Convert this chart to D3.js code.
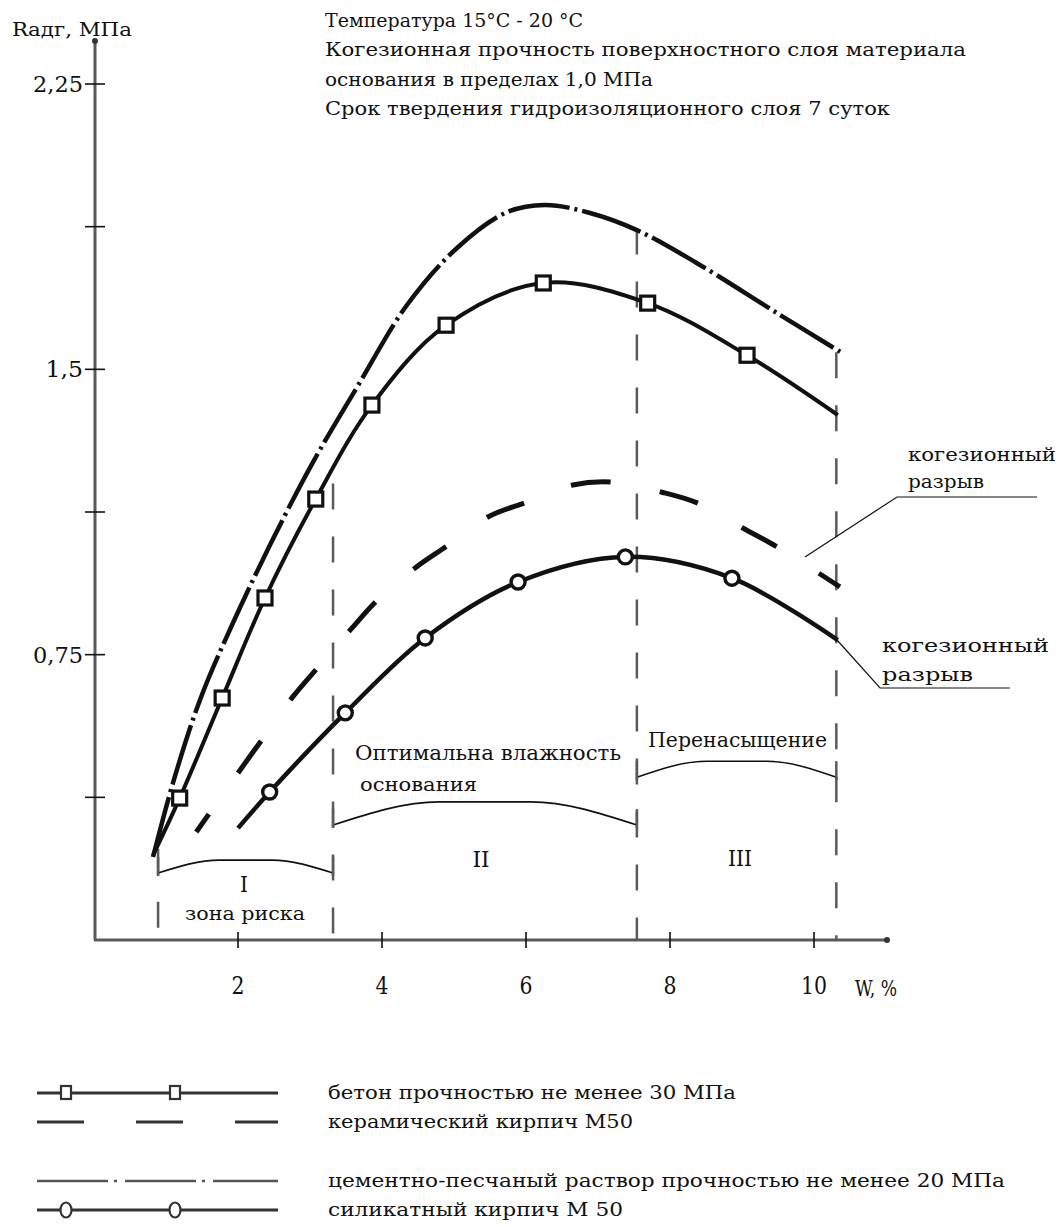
<!DOCTYPE html>
<html><head><meta charset="utf-8">
<script src="https://cdn.jsdelivr.net/npm/d3@7"></script>
<style>
html,body{margin:0;padding:0;background:#fff;}
svg{display:block;}
text{font-family:"DejaVu Serif","Liberation Serif",serif;fill:#111;}
</style></head>
<body>
<script>
// ---- data (W, % ; Radg, MPa) ----
const concreteW = [0.82, 1.19, 1.78, 2.375, 3.08, 3.86, 4.89, 6.24, 7.69, 9.07, 10.33];
const concreteR = [0.223, 0.373, 0.636, 0.899, 1.159, 1.406, 1.616, 1.727, 1.674, 1.537, 1.380];

const ceramicW = [1.42, 2.03, 2.35, 2.76, 3.14, 3.56, 3.94, 4.46, 4.92, 5.47, 6.01, 6.65, 7.19, 7.89, 8.39, 9.01, 9.49, 10.06, 10.36];
const ceramicR = [0.284, 0.447, 0.531, 0.639, 0.723, 0.815, 0.894, 0.978, 1.038, 1.112, 1.151, 1.196, 1.204, 1.177, 1.148, 1.083, 1.033, 0.965, 0.928];

const cementW = [0.82, 1.097, 1.472, 1.917, 2.444, 3.042, 3.653, 4.347, 5.042, 5.736, 6.264, 6.889, 7.54, 8.375, 9.486, 10.39];
const cementR = [0.218, 0.413, 0.631, 0.828, 1.038, 1.256, 1.453, 1.669, 1.819, 1.913, 1.932, 1.911, 1.866, 1.779, 1.648, 1.543];

const silicateW = [2.0, 2.44, 3.49, 4.60, 5.89, 7.38, 8.86, 10.33];
const silicateR = [0.294, 0.389, 0.597, 0.794, 0.941, 1.007, 0.951, 0.788];

const xTicks = [2, 4, 6, 8, 10];
const xTickLabels = ["2", "4", "6", "8", "10"];
const yTicks = [0.375, 0.75, 1.125, 1.5, 1.875, 2.25];
const yTickLabels = {"0.75": "0,75", "1.5": "1,5", "2.25": "2,25"};

const zoneBounds = [0.89, 3.32, 7.54, 10.31];
const zoneLineTop = [0.24, 1.20, 1.87, 1.545];
const zoneNames = ["I", "II", "III"];
const bracketEnd = [0.176, 0.302, 0.428];
const bracketTop = [0.210, 0.363, 0.470];

const titleLines = [
  "Температура 15°С - 20 °С",
  "Когезионная прочность поверхностного слоя  материала",
  "основания в пределах 1,0 МПа",
  "Срок твердения гидроизоляционного слоя 7 суток"
];
const legendLabels = [
  "бетон прочностью не менее 30 МПа",
  "керамический кирпич М50",
  "цементно-песчаный раствор прочностью не менее 20 МПа",
  "силикатный кирпич М 50"
];

// ---- drawing ----
const svg = d3.select("body").append("svg").attr("width", 1062).attr("height", 1227);
const x = d3.scaleLinear().domain([0, 10]).range([94, 814]);
const y = d3.scaleLinear().domain([0, 2.25]).range([940, 84]);
const INK = "#111";
const AX = "#5a5a5a";

function txt(s, px, py, fs, len, anchor) {
  const t = svg.append("text").attr("x", px).attr("y", py).attr("font-size", fs).text(s);
  if (len) t.attr("textLength", len).attr("lengthAdjust", "spacingAndGlyphs");
  if (anchor) t.attr("text-anchor", anchor);
  return t;
}

// title
const titleW = [258, 641, 328, 565];
titleLines.forEach((s, i) => txt(s, 325, 27 + i * 29.3, 19, titleW[i]));

// axes
svg.append("line").attr("x1", x(0) + 1).attr("x2", x(0) + 1).attr("y1", y(0)).attr("y2", 42)
  .attr("stroke", AX).attr("stroke-width", 3);
svg.append("line").attr("x1", x(0)).attr("x2", 887).attr("y1", y(0)).attr("y2", y(0))
  .attr("stroke", AX).attr("stroke-width", 3);
svg.append("circle").attr("cx", 95).attr("cy", 41).attr("r", 3).attr("fill", "#333");
svg.append("circle").attr("cx", 887).attr("cy", 940).attr("r", 3).attr("fill", "#333");

// y ticks
yTicks.forEach(v => {
  svg.append("line").attr("x1", 85).attr("x2", 105).attr("y1", y(v)).attr("y2", y(v))
    .attr("stroke", INK).attr("stroke-width", 1.6);
  const lab = yTickLabels[String(v)];
  if (lab) txt(lab, 83, y(v) + 8, 23, lab.length * 12.5, "end");
});
// x ticks
xTicks.forEach((v, i) => {
  svg.append("line").attr("x1", x(v)).attr("x2", x(v)).attr("y1", 932).attr("y2", 948)
    .attr("stroke", INK).attr("stroke-width", 1.6);
  txt(xTickLabels[i], x(v), 994, 24, xTickLabels[i].length * 13, "middle");
});
txt("W, %", 855, 996, 22, 42);
txt("Rадг, МПа", 12, 36, 18, 120);

// zone dashed verticals
zoneBounds.forEach((w, i) => {
  svg.append("line").attr("x1", x(w)).attr("x2", x(w)).attr("y1", y(zoneLineTop[i])).attr("y2", y(0))
    .attr("stroke", AX).attr("stroke-width", 2.5).attr("stroke-dasharray", "26,27");
});

// brackets
const bLine = d3.line().x(d => x(d[0])).y(d => y(d[1])).curve(d3.curveMonotoneX);
zoneNames.forEach((nm, i) => {
  const a = zoneBounds[i], b = zoneBounds[i + 1], L = b - a;
  const pts = [[a, bracketEnd[i]], [a + 0.35 * L, bracketTop[i]], [a + 0.65 * L, bracketTop[i]], [b, bracketEnd[i]]];
  svg.append("path").attr("d", bLine(pts)).attr("fill", "none").attr("stroke", INK).attr("stroke-width", 1.6);
  [a, b].forEach(w => svg.append("line").attr("x1", x(w)).attr("x2", x(w))
    .attr("y1", y(bracketEnd[i]) - 16).attr("y2", y(bracketEnd[i]) + 3).attr("stroke", AX).attr("stroke-width", 2.5));
});
txt("I", 244, 892, 22, 8, "middle");
txt("зона риска", 185, 920, 19, 120);
txt("II", 481, 867, 22, 17, "middle");
txt("III", 740, 866, 22, 24, "middle");
txt("Оптимальна влажность", 355, 760, 20, 266);
txt("основания", 360, 791, 18, 117);
txt("Перенасыщение", 648, 747, 20, 179);

// curves
const line = d3.line().x(d => x(d[0])).y(d => y(d[1])).curve(d3.curveCatmullRom.alpha(0.5));
const zip = (a, b) => a.map((v, i) => [v, b[i]]);
const concrete = zip(concreteW, concreteR);
const ceramic = zip(ceramicW, ceramicR);
const cement = zip(cementW, cementR);
const silicate = zip(silicateW, silicateR);

svg.append("path").attr("d", line(cement)).attr("fill", "none").attr("stroke", INK)
  .attr("stroke-width", 4.5).attr("stroke-dasharray", "62,5,3,5");
svg.append("path").attr("d", line(ceramic)).attr("fill", "none").attr("stroke", INK)
  .attr("stroke-width", 5).attr("stroke-dasharray", "40,50").attr("stroke-dashoffset", 18);
svg.append("path").attr("d", line(concrete)).attr("fill", "none").attr("stroke", INK).attr("stroke-width", 4);
svg.append("path").attr("d", line(silicate)).attr("fill", "none").attr("stroke", INK).attr("stroke-width", 4.5);

// markers on interior points
svg.selectAll(".sq").data(concrete.slice(1, -1)).enter().append("rect")
  .attr("x", d => x(d[0]) - 7).attr("y", d => y(d[1]) - 7).attr("width", 14).attr("height", 14)
  .attr("fill", "#fff").attr("stroke", INK).attr("stroke-width", 3.2);
svg.selectAll(".ci").data(silicate.slice(1, -1)).enter().append("circle")
  .attr("cx", d => x(d[0])).attr("cy", d => y(d[1])).attr("r", 7)
  .attr("fill", "#fff").attr("stroke", INK).attr("stroke-width", 3.4);

// annotations
svg.append("polyline").attr("points", "805,557 897,497 1037,497").attr("fill", "none").attr("stroke", INK).attr("stroke-width", 1.2);
svg.append("polyline").attr("points", "837,640 880,688 1010,688").attr("fill", "none").attr("stroke", INK).attr("stroke-width", 1.2);
txt("когезионный", 908, 461, 19, 148);
txt("разрыв", 908, 488, 19, 76);
txt("когезионный", 882, 652, 19, 167);
txt("разрыв", 882, 681, 19, 91);

// legend
const LG = "#333";
const legY = [1093, 1122, 1181, 1210];
const l0 = 37, l1 = 278;
svg.append("line").attr("x1", l0).attr("x2", l1).attr("y1", legY[0]).attr("y2", legY[0]).attr("stroke", LG).attr("stroke-width", 3);
[66, 175].forEach(px => svg.append("rect").attr("x", px - 5).attr("y", legY[0] - 7).attr("width", 10).attr("height", 13)
  .attr("fill", "#fff").attr("stroke", LG).attr("stroke-width", 2.2));
svg.append("line").attr("x1", l0).attr("x2", l1).attr("y1", legY[1]).attr("y2", legY[1]).attr("stroke", LG).attr("stroke-width", 3)
  .attr("stroke-dasharray", "47,52");
svg.append("line").attr("x1", l0).attr("x2", l1).attr("y1", legY[2]).attr("y2", legY[2]).attr("stroke", "#555").attr("stroke-width", 2.5)
  .attr("stroke-dasharray", "71,6,3,8");
svg.append("line").attr("x1", l0).attr("x2", l1).attr("y1", legY[3]).attr("y2", legY[3]).attr("stroke", LG).attr("stroke-width", 3);
[66, 175].forEach(px => svg.append("ellipse").attr("cx", px).attr("cy", legY[3]).attr("rx", 5.5).attr("ry", 7.5)
  .attr("fill", "#fff").attr("stroke", LG).attr("stroke-width", 2.2));
const legW = [408, 305, 677, 295];
legendLabels.forEach((s, i) => txt(s, 328, legY[i] + 6, 18, legW[i]));
</script>
</body></html>
